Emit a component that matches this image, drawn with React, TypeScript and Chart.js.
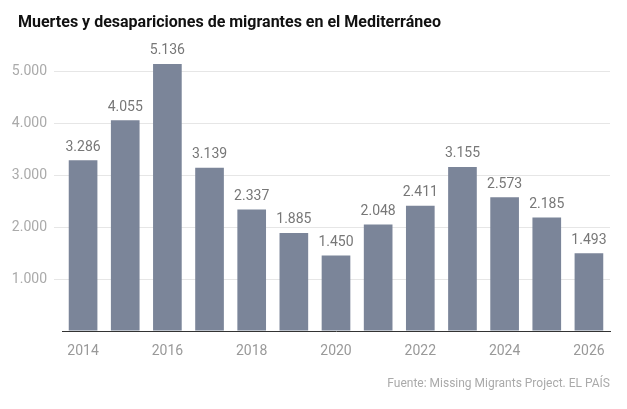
import React, { useEffect, useRef } from "react";
import { Chart, registerables } from "chart.js";
Chart.register(...registerables);

const years = ["2014","2015","2016","2017","2018","2019","2020","2021","2022","2023","2024","2025","2026"];
const values = [3286, 4055, 5136, 3139, 2337, 1885, 1450, 2048, 2411, 3155, 2573, 2185, 1493];
const yTicks = [0, 1000, 2000, 3000, 4000, 5000];

const fmt = (n: number) => n.toString().replace(/\B(?=(\d{3})+(?!\d))/g, ".");
const FONT = "Roboto, 'Liberation Sans', sans-serif";

const labelPlugin = {
  id: "vals",
  afterDatasetsDraw(chart: any) {
    const ctx = chart.ctx;
    const meta = chart.getDatasetMeta(0);
    ctx.save();
    ctx.font = `14px ${FONT}`;
    ctx.fillStyle = "#777";
    ctx.textAlign = "center";
    ctx.textBaseline = "bottom";
    meta.data.forEach((bar: any, i: number) => {
      ctx.fillText(fmt(values[i]), bar.x, bar.y - 6);
    });
    ctx.restore();
  },
};

export default function App() {
  const ref = useRef<HTMLCanvasElement>(null);
  useEffect(() => {
    const chart = new Chart(ref.current!, {
      type: "bar",
      data: { labels: years, datasets: [{ data: values, backgroundColor: "#7b8599", barPercentage: 0.68, categoryPercentage: 1 }] },
      options: {
        animation: false,
        responsive: false,
        layout: { padding: { top: 45, right: 17, bottom: 50, left: 0 } },
        plugins: { legend: { display: false }, tooltip: { enabled: false } },
        scales: {
          x: {
            grid: { display: false },
            border: { color: "#333", width: 1 },
            afterFit: (s: any) => { s.height = 28; },
            ticks: {
              autoSkip: false, maxRotation: 0, color: "#999", font: { size: 14, family: FONT }, padding: 4,
              callback: (_v: any, i: number) => (i % 2 === 0 ? years[i] : ""),
            },
          },
          y: {
            min: 0, max: 5500,
            border: { display: false },
            afterFit: (s: any) => { s.width = 62; },
            afterBuildTicks: (s: any) => { s.ticks = yTicks.map((v) => ({ value: v })); },
            grid: { color: (c: any) => (c.tick && c.tick.value > 0 ? "#e6e6e6" : "transparent") },
            ticks: {
              autoSkip: false, color: "#aaa", font: { size: 14, family: FONT }, padding: 7,
              callback: (v: any) => (v > 0 ? fmt(v) : ""),
            },
          },
        },
      },
      plugins: [labelPlugin],
    });
    return () => chart.destroy();
  }, []);
  return (
    <div style={{ position: "fixed", left: 0, top: 0, width: 627, height: 409, background: "#fff", fontFamily: FONT }}>
      <canvas ref={ref} width={627} height={409} style={{ position: "absolute", left: 0, top: 0 }} />
      <div style={{ position: "absolute", left: 18, top: 12, fontSize: 16, fontWeight: 700, color: "#111" }}>
        Muertes y desapariciones de migrantes en el Mediterráneo
      </div>
      <div style={{ position: "absolute", right: 17, top: 376, fontSize: 12, color: "#aaa" }}>
        Fuente: Missing Migrants Project. EL PAÍS
      </div>
    </div>
  );
}
